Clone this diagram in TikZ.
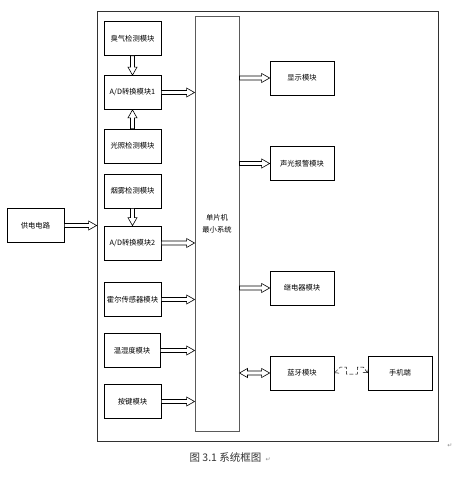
\documentclass[tikz,border=0pt]{standalone}
\usepackage{fontspec}
\newfontfamily\cjk{Noto Sans CJK SC}
\newfontfamily\marksfont{DejaVu Sans}
\usetikzlibrary{calc,arrows.meta}

\tikzset{
    modbox/.style={shape=rectangle,draw,line width=0.7pt,inner sep=1pt,minimum height=34pt,
        font=\cjk\fontsize{7.3}{12}\selectfont},
    blockarrow/.style={draw,fill=white,line width=0.6pt,to path={
        let \p1=($(\tikztotarget)!8pt!(\tikztostart)$) in
        ($(\tikztostart)!2pt!90:(\tikztotarget)$) --
        ($(\p1)!2pt!-90:(\tikztostart)$) --
        ($(\p1)!4.5pt!-90:(\tikztostart)$) --
        (\tikztotarget) --
        ($(\p1)!4.5pt!90:(\tikztostart)$) --
        ($(\p1)!2pt!90:(\tikztostart)$) --
        ($(\tikztostart)!2pt!-90:(\tikztotarget)$) -- cycle}},
    dblockarrow/.style={draw,fill=white,line width=0.6pt,to path={
        let \p1=($(\tikztostart)!8pt!(\tikztotarget)$),
            \p2=($(\tikztotarget)!8pt!(\tikztostart)$) in
        (\tikztostart) --
        ($(\p1)!4.5pt!90:(\tikztotarget)$) --
        ($(\p1)!2pt!90:(\tikztotarget)$) --
        ($(\p2)!2pt!-90:(\tikztostart)$) --
        ($(\p2)!4.5pt!-90:(\tikztostart)$) --
        (\tikztotarget) --
        ($(\p2)!4.5pt!90:(\tikztostart)$) --
        ($(\p2)!2pt!90:(\tikztostart)$) --
        ($(\p1)!2pt!-90:(\tikztotarget)$) --
        ($(\p1)!4.5pt!-90:(\tikztotarget)$) -- cycle}},
}

\begin{document}
\begin{tikzpicture}[x=1pt,y=-1pt]
    \definecolor{frame_gray}{RGB}{50,50,50}
    \definecolor{mcu_gray}{RGB}{90,90,90}
    \useasboundingbox (0,0) rectangle (472,480);

    % outer frame
    \node[shape=rectangle,draw=frame_gray,line width=0.8pt,minimum width=341pt,minimum height=430pt] (frame) at (267.5,226) {};

    % single chip
    \node[shape=rectangle,draw=mcu_gray,line width=0.9pt,minimum width=44pt,minimum height=415pt,align=center,
        font=\cjk\fontsize{7.3}{12}\selectfont] (mcu) at (217,223.5) {单片机\\最小系统};

    % input side
    \node[modbox,minimum width=57pt] (odor) at (132.5,38.5) {臭气检测模块};
    \node[modbox,minimum width=57pt] (ad1) at (132.5,92.5) {A/D转换模块1};
    \node[modbox,minimum width=57pt] (light) at (132.5,146) {光照检测模块};
    \node[modbox,minimum width=57pt] (smoke) at (132.5,191) {烟雾检测模块};
    \node[modbox,minimum width=57pt] (ad2) at (132.5,243) {A/D转换模块2};
    \node[modbox,minimum width=57pt] (hall) at (132.5,299.5) {霍尔传感器模块};
    \node[modbox,minimum width=56pt] (humid) at (132,350.5) {温湿度模块};
    \node[modbox,minimum width=57pt] (keys) at (132.5,401.5) {按键模块};

    % output side
    \node[modbox,minimum width=64pt] (disp) at (302,78) {显示模块};
    \node[modbox,minimum width=64pt] (alarm) at (302,163.5) {声光报警模块};
    \node[modbox,minimum width=64pt] (relay) at (302,288) {继电器模块};
    \node[modbox,minimum width=64pt] (bt) at (302,373) {蓝牙模块};
    \node[modbox,minimum width=64pt] (phone) at (400,373) {手机端};

    \node[modbox,minimum width=57pt] (power) at (35.5,225.5) {供电电路};

    \draw[blockarrow] (odor.south) to (ad1.north);
    \draw[blockarrow] (light.north) to (ad1.south);
    \draw[blockarrow] (smoke.south) to (ad2.north);

    \draw[blockarrow] (ad1.east) to (ad1.east -| mcu.west);
    \draw[blockarrow] (ad2.east) to (ad2.east -| mcu.west);
    \draw[blockarrow] (hall.east) to (hall.east -| mcu.west);
    \draw[blockarrow] (humid.east) to (humid.east -| mcu.west);
    \draw[blockarrow] (keys.east) to (keys.east -| mcu.west);

    \draw[blockarrow] (disp.west -| mcu.east) to (disp.west);
    \draw[blockarrow] (alarm.west -| mcu.east) to (alarm.west);
    \draw[blockarrow] (relay.west -| mcu.east) to (relay.west);
    \draw[dblockarrow] (bt.west -| mcu.east) to (bt.west);

    \draw[blockarrow] (power.east) to (power.east -| frame.west);

    % wireless link
    \draw[dashed,dash pattern=on 4pt off 2pt,line width=0.5pt,{Straight Barb[length=3pt,width=7pt]}-{Straight Barb[length=3pt,width=7pt]}]
        (bt.east) -- ++(6,-6) -- ++(6,0) -- ++(0,7) -- ++(11,0) -- ++(0,-7) -- ++(6,0) -- (phone.west);

    \node[font=\cjk\fontsize{10.5}{12}\selectfont,text=black!80] (caption) at (225.5,457.5) {图 3.1 系统框图};
    \node[font=\marksfont\fontsize{6}{6}\selectfont,text=black!45,anchor=base west,inner sep=0.5pt] at (caption.base east) {↵};
    \node[font=\marksfont\fontsize{6}{6}\selectfont,text=black!45,inner sep=0pt] at (450,446) {↵};

\end{tikzpicture}
\end{document}
